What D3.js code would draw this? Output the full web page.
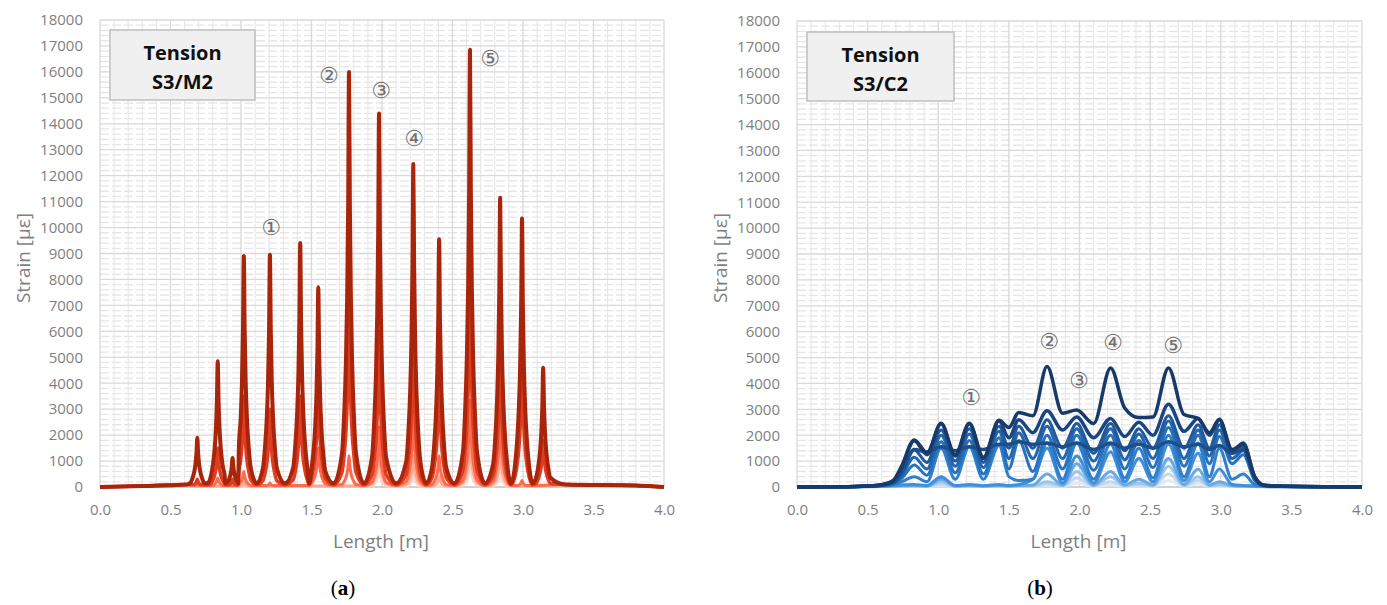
<!DOCTYPE html>
<html>
<head>
<meta charset="utf-8">
<script src="https://cdn.jsdelivr.net/npm/d3@7"></script>
<style>
    body { margin: 0; background: #ffffff; }
    svg { display: block; }
    text { font-family: 'Open Sans', 'Noto Sans', sans-serif; }
</style>
</head>
<body>
<svg id="chart" width="1387" height="605"></svg>
<script>
'use strict';

// ---------- shared axis data ----------
const xTickValues = [0, 0.5, 1, 1.5, 2, 2.5, 3, 3.5, 4];
const yTickValues = [0, 1000, 2000, 3000, 4000, 5000, 6000, 7000, 8000, 9000,
    10000, 11000, 12000, 13000, 14000, 15000, 16000, 17000, 18000];
const markLabels = ['①', '②', '③', '④', '⑤'];

// ---------- panel (a): Tension S3/M2 ----------
// peak positions [m] and peak heights [µε] per load step (light -> dark)
const leftPeakX = [0.69, 0.835, 0.94, 1.02, 1.205, 1.42, 1.548, 1.766, 1.979, 2.222, 2.405, 2.624, 2.838, 2.993, 3.143];
const leftLoad1 = [0, 0, 0, 0, 0, 0, 0, 0, 700, 500, 0, 1000, 600, 0, 0];
const leftLoad2 = [0, 0, 0, 200, 0, 0, 0, 0, 1500, 1200, 400, 2000, 1400, 0, 0];
const leftLoad3 = [0, 350, 0, 600, 150, 0, 1500, 1200, 2300, 2700, 1200, 3350, 2800, 250, 0];
const leftLoad4 = [300, 1500, 300, 3500, 3000, 3500, 4000, 7000, 6000, 6000, 4500, 8000, 5500, 5000, 1800];
const leftLoad5 = [1900, 4850, 1120, 8900, 8950, 9400, 7700, 16000, 14400, 12450, 9550, 16850, 11150, 10350, 4600];
// level between peaks per load step
const leftTrough = [30, 40, 60, 90, 140];
// strain outside the bonded zone
const leftEdgeX = [0, 0.3, 0.62, 3.3, 3.8, 4.0];
const leftEdgeY = [0, 40, 100, 100, 60, 0];
// shape of a single crack peak (offset [m], fraction of peak)
const peakShapeDx = [-0.05, -0.035, -0.022, -0.013, -0.006, 0, 0.006, 0.013, 0.022, 0.035, 0.05];
const peakShapeFrac = [0.08, 0.17, 0.3, 0.46, 0.68, 1, 0.68, 0.46, 0.3, 0.17, 0.08];
const leftMarkX = [1.213, 1.624, 1.993, 2.227, 2.766];
const leftMarkY = [9985, 15880, 15270, 13450, 16500];

// ---------- panel (b): Tension S3/C2 ----------
const rightX = [0, 0.3, 0.5, 0.6, 0.68, 0.74, 0.83, 0.92, 1.02, 1.12, 1.22, 1.32, 1.43, 1.5, 1.57, 1.67, 1.77, 1.88,
    1.98, 2.1, 2.22, 2.32, 2.42, 2.52, 2.63, 2.74, 2.84, 2.92, 2.99, 3.08, 3.16, 3.24, 3.3, 3.4, 4.0];
const rightLoad1 = [0, 2, 6, 10, 15, 18, 20, 18, 50, 18, 20, 18, 20, 18, 20, 25, 50, 25, 150, 25, 80, 25, 40, 25, 250, 30, 120, 25, 30, 20, 15, 10, 6, 3, 0];
const rightLoad2 = [0, 3, 10, 15, 20, 25, 30, 25, 100, 25, 30, 25, 30, 25, 30, 35, 100, 35, 350, 35, 200, 35, 80, 35, 500, 40, 250, 35, 60, 30, 20, 15, 10, 5, 0];
const rightLoad3 = [0, 4, 12, 20, 30, 35, 40, 30, 200, 30, 40, 30, 40, 30, 40, 50, 200, 50, 600, 50, 400, 50, 150, 50, 800, 60, 400, 50, 100, 40, 30, 20, 15, 8, 0];
const rightLoad4 = [0, 5, 15, 25, 40, 50, 60, 40, 300, 40, 60, 40, 60, 40, 60, 80, 500, 80, 900, 80, 600, 80, 300, 80, 1100, 100, 700, 80, 200, 60, 40, 30, 20, 10, 0];
const rightLoad5 = [0, 6, 20, 35, 60, 80, 100, 60, 400, 60, 100, 50, 100, 60, 100, 300, 1500, 150, 1200, 150, 1350, 200, 1100, 200, 1650, 250, 1300, 200, 700, 100, 60, 40, 30, 15, 0];
const rightLoad6 = [0, 8, 25, 45, 90, 200, 400, 200, 1500, 300, 1550, 300, 1600, 400, 250, 300, 1700, 300, 1700, 300, 1650, 350, 1500, 350, 2000, 400, 1700, 400, 1500, 300, 500, 100, 40, 20, 0];
const rightLoad7 = [0, 10, 30, 55, 120, 330, 850, 450, 1750, 550, 1800, 500, 1900, 700, 1800, 600, 2000, 700, 2000, 650, 2000, 700, 1800, 750, 2300, 800, 2000, 900, 1950, 900, 1250, 250, 50, 25, 0];
const rightLoad8 = [0, 10, 30, 60, 140, 420, 1150, 700, 2000, 800, 2050, 750, 2150, 1100, 2100, 1100, 2350, 1100, 2250, 1000, 2250, 1050, 2050, 1100, 2550, 1100, 2200, 1200, 2200, 1100, 1400, 300, 60, 30, 0];
const rightLoad9 = [0, 10, 35, 70, 160, 500, 1430, 950, 2200, 1000, 2250, 950, 2350, 1500, 2350, 1500, 2600, 1500, 2450, 1300, 2450, 1400, 2250, 1500, 2750, 1500, 2400, 1500, 2400, 1300, 1550, 350, 70, 30, 0];
const rightLoad10 = [0, 10, 40, 80, 180, 600, 1450, 1350, 1550, 1400, 1550, 1450, 1650, 1650, 1750, 1650, 1700, 1550, 1700, 1450, 1700, 1500, 1650, 1500, 1750, 1550, 1650, 1450, 1600, 1300, 1450, 380, 70, 35, 0];
const rightLoad11 = [0, 10, 40, 90, 220, 750, 1790, 1250, 2440, 1200, 2440, 1100, 2550, 1900, 2600, 2100, 2950, 2200, 2700, 1900, 2650, 1950, 2500, 2000, 3200, 2150, 2650, 2000, 2600, 1400, 1700, 400, 80, 40, 0];
const rightLoad12 = [0, 10, 40, 90, 250, 800, 1820, 1330, 2460, 1250, 2460, 1150, 2580, 2300, 2880, 2750, 4650, 2850, 2970, 2450, 4600, 3050, 2680, 2700, 4600, 2800, 2650, 2100, 2620, 1450, 1650, 400, 80, 40, 0];
const rightMarkX = [1.232, 1.785, 1.996, 2.237, 2.662];
const rightMarkY = [3470, 5630, 4130, 5590, 5470];

// ---------- styles ----------
const leftColors = ['#ffd6cc', '#ffa892', '#ff6a4c', '#e03d20', '#a8240a'];
const leftWidths = [3, 3, 3, 3.5, 4];
const rightColors = ['#deebf7', '#c0d8f0', '#9cc3ea', '#6aa9e2', '#3f8fda', '#2f80cc',
    '#2872bd', '#2466ad', '#205a9c', '#1c4e89', '#1a4680', '#173a6b'];
const axisTextColor = '#7f7f7f';
const majorGridColor = '#d9d9d9';
const minorGridColor = '#e6e6e6';

const svg = d3.select('#chart');

/**
 * Builds the point list of one narrow-peak curve from peak heights
 * @param  {Number[]} heights Peak heights for each peak position
 * @param  {Number}   trough  Level between the peaks
 * @return {Array}            [x, y] points sorted by x
 */
function peakCurve(heights, trough) {
    const pts = leftEdgeX.map((x, i) => [x, leftEdgeY[i]]);

    leftPeakX.forEach((px, i) => {
        const gapL = i > 0 ? (px - leftPeakX[i - 1]) / 2 : 1,
            gapR = i < leftPeakX.length - 1 ? (leftPeakX[i + 1] - px) / 2 : 1;

        if (i > 0) {
            pts.push([px - gapL, trough]);
        }
        if (!heights[i]) {
            return;
        }
        peakShapeDx.forEach((dx, j) => {
            const ok = dx < 0 ? -dx < gapL - 0.002 : dx < gapR - 0.002;
            if (ok) {
                pts.push([px + dx, Math.max(trough, heights[i] * peakShapeFrac[j])]);
            }
        });
    });

    return pts.sort((a, b) => a[0] - b[0]);
}

/**
 * Draws one panel: grid, axes, curves, label box and crack marks
 */
function drawPanel(cfg) {
    const x = d3.scaleLinear().domain([0, 4]).range([cfg.left, cfg.right]),
        y = d3.scaleLinear().domain([0, 18000]).range([cfg.bottom, cfg.top]),
        g = svg.append('g');

    // minor grid
    const minorX = d3.range(0, 41).filter(i => i % 5).map(i => i / 10),
        minorY = d3.range(0, 91).filter(i => i % 5).map(i => i * 200);

    g.append('g').selectAll('line').data(minorX).join('line')
        .attr('x1', d => x(d)).attr('x2', d => x(d))
        .attr('y1', cfg.top).attr('y2', cfg.bottom)
        .attr('stroke', minorGridColor).attr('stroke-width', 1);

    g.append('g').selectAll('line').data(minorY).join('line')
        .attr('x1', cfg.left).attr('x2', cfg.right)
        .attr('y1', d => y(d)).attr('y2', d => y(d))
        .attr('stroke', minorGridColor).attr('stroke-width', 1.3)
        .attr('stroke-dasharray', '9,3');

    // major grid
    g.append('g').selectAll('line').data(xTickValues).join('line')
        .attr('x1', d => x(d)).attr('x2', d => x(d))
        .attr('y1', cfg.top).attr('y2', cfg.bottom)
        .attr('stroke', majorGridColor).attr('stroke-width', 1.3);

    g.append('g').selectAll('line').data(yTickValues).join('line')
        .attr('x1', cfg.left).attr('x2', cfg.right)
        .attr('y1', d => y(d)).attr('y2', d => y(d))
        .attr('stroke', majorGridColor).attr('stroke-width', 1.3);

    // axes
    const xAxis = g.append('g')
        .attr('transform', `translate(0,${cfg.bottom})`)
        .call(d3.axisBottom(x).tickValues(xTickValues).tickFormat(d3.format('.1f'))
            .tickSize(0).tickPadding(17));
    const yAxis = g.append('g')
        .attr('transform', `translate(${cfg.left},0)`)
        .call(d3.axisLeft(y).tickValues(yTickValues).tickFormat(d => d)
            .tickSize(0).tickPadding(17));

    [xAxis, yAxis].forEach(a => {
        a.select('.domain').remove();
        a.selectAll('text')
            .style('font-family', "'Open Sans', sans-serif")
            .style('font-size', '15px')
            .attr('fill', axisTextColor);
    });

    g.append('line')
        .attr('x1', cfg.left).attr('x2', cfg.right)
        .attr('y1', cfg.bottom).attr('y2', cfg.bottom)
        .attr('stroke', '#bfbfbf').attr('stroke-width', 1.2);

    g.append('text')
        .attr('x', (cfg.left + cfg.right) / 2 - 1)
        .attr('y', 548)
        .attr('text-anchor', 'middle')
        .attr('fill', axisTextColor)
        .style('font-size', '19px')
        .text('Length [m]');

    g.append('text')
        .attr('transform', `translate(${cfg.left - 77},258) rotate(-90)`)
        .attr('text-anchor', 'middle')
        .attr('dy', '0.35em')
        .attr('fill', axisTextColor)
        .style('font-size', '19px')
        .text('Strain [µε]');

    // curves
    const line = d3.line()
        .x(d => x(d[0]))
        .y(d => y(d[1]))
        .curve(d3.curveMonotoneX);

    g.append('g').selectAll('path').data(cfg.series).join('path')
        .attr('d', d => line(d.points))
        .attr('fill', 'none')
        .attr('stroke', d => d.color)
        .attr('stroke-width', d => d.width)
        .attr('stroke-linejoin', 'round');

    // label box
    g.append('rect')
        .attr('x', cfg.box[0]).attr('y', cfg.box[1])
        .attr('width', cfg.box[2]).attr('height', cfg.box[3])
        .attr('fill', '#f0f0f0')
        .attr('stroke', '#bfbfbf')
        .attr('stroke-width', 1.5);

    const cx = cfg.box[0] + cfg.box[2] / 2;
    ['Tension', cfg.name].forEach((t, i) => {
        g.append('text')
            .attr('x', cx)
            .attr('y', cfg.box[1] + 30 + i * 28.5)
            .attr('text-anchor', 'middle')
            .attr('fill', '#111111')
            .style('font-size', '20px')
            .style('font-weight', 'bold')
            .text(t);
    });

    // crack marks
    g.append('g').selectAll('text').data(markLabels).join('text')
        .attr('x', (d, i) => x(cfg.markX[i]))
        .attr('y', (d, i) => y(cfg.markY[i]))
        .attr('text-anchor', 'middle')
        .attr('dominant-baseline', 'central')
        .attr('fill', '#6f6f6f')
        .style('font-family', "'DejaVu Sans', sans-serif")
        .style('font-size', '22px')
        .text(d => d);

    // sub caption
    const cap = g.append('text')
        .attr('x', cfg.captionX)
        .attr('y', 595)
        .attr('text-anchor', 'middle')
        .attr('fill', '#000000')
        .style('font-family', "'Liberation Serif', serif")
        .style('font-size', '21px');
    cap.append('tspan').text('(');
    cap.append('tspan').style('font-weight', 'bold').text(cfg.caption);
    cap.append('tspan').text(')');
}

const leftLoads = [leftLoad1, leftLoad2, leftLoad3, leftLoad4, leftLoad5];

const rightLoads = [rightLoad1, rightLoad2, rightLoad3, rightLoad4, rightLoad5, rightLoad6,
    rightLoad7, rightLoad8, rightLoad9, rightLoad10, rightLoad11, rightLoad12];

drawPanel({
    left: 100, right: 664, top: 20, bottom: 487,
    name: 'S3/M2',
    box: [110, 30, 145, 70],
    markX: leftMarkX, markY: leftMarkY,
    caption: 'a', captionX: 343,
    series: leftLoads.map((h, i) => ({
        points: peakCurve(h, leftTrough[i]),
        color: leftColors[i],
        width: leftWidths[i]
    }))
});

drawPanel({
    left: 797, right: 1362, top: 21, bottom: 487,
    name: 'S3/C2',
    box: [807, 32, 147, 69],
    markX: rightMarkX, markY: rightMarkY,
    caption: 'b', captionX: 1040,
    series: rightLoads.map((v, i) => ({
        points: rightX.map((xv, j) => [xv, v[j]]),
        color: rightColors[i],
        width: i > 8 ? 3.5 : 3
    }))
});
</script>
</body>
</html>
